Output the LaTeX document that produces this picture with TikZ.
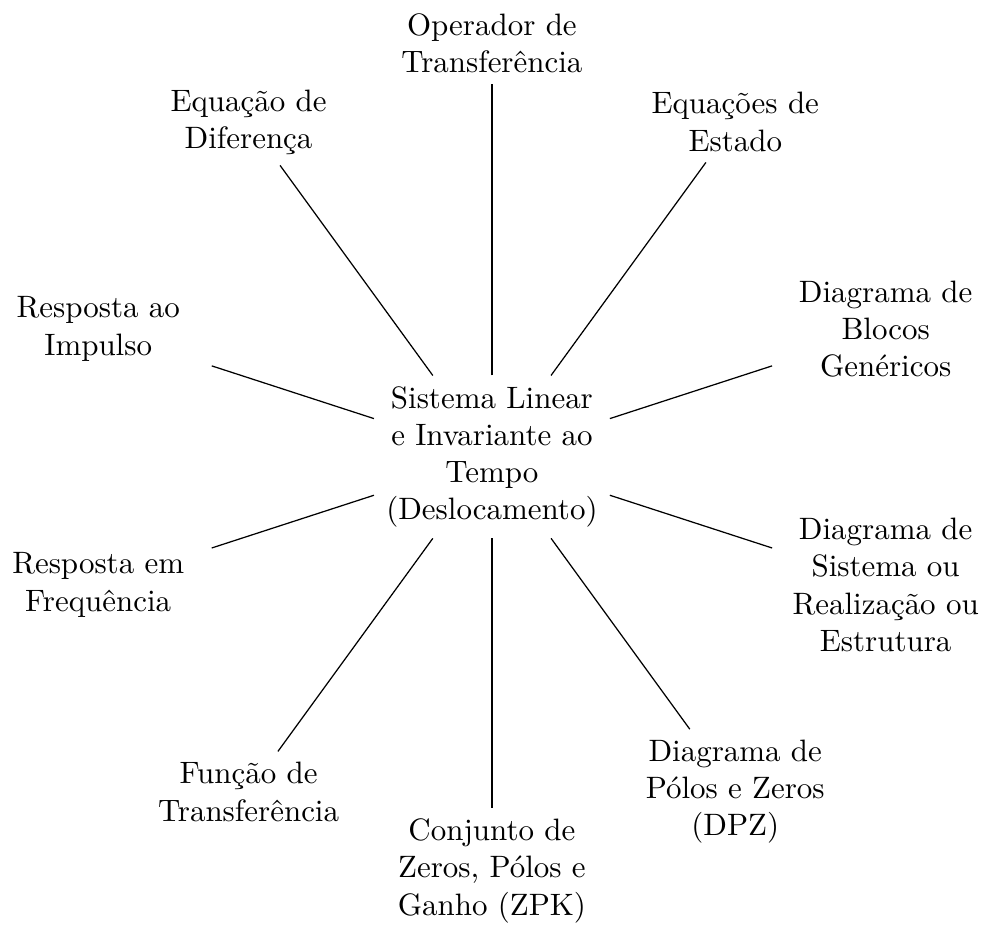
\documentclass[tikz,border=0pt]{standalone}
\begin{document}
\begin{tikzpicture}[
  concept/.style={text width=2.33cm, align=center},
  core/.style={text width=2.43cm, align=center},
  link/.style={draw=black, line width=0.4pt}
]
\useasboundingbox (-158.9pt,-151.5pt) rectangle (159.6pt,147.6pt);
\node[core] (c) at (0,0) {Sistema Linear\\ e Invariante ao\\ Tempo\\ (Deslocamento)};
\node[concept] (n1) at (90:4.7cm) {Operador de\\ Transferência};
\node[concept] (n2) at (54:4.7cm) {Equações de\\ Estado};
\node[concept] (n3) at (18:4.7cm) {Diagrama de\\ Blocos\\ Genéricos};
\node[concept] (n4) at (-18:4.7cm) {Diagrama de\\ Sistema ou\\ Realização ou\\ Estrutura};
\node[concept] (n5) at (-54:4.7cm) {Diagrama de\\ Pólos e Zeros\\ (DPZ)};
\node[concept] (n6) at (-90:4.7cm) {Conjunto de\\ Zeros, Pólos e\\ Ganho (ZPK)};
\node[concept] (n7) at (-126:4.7cm) {Função de\\ Transferência};
\node[concept] (n8) at (-162:4.7cm) {Resposta em\\ Frequência};
\node[concept] (n9) at (162:4.7cm) {Resposta ao\\ Impulso};
\node[concept] (n10) at (126:4.7cm) {Equação de\\ Diferença};
\foreach \i in {1,...,10} {
  \draw[link] (c) -- (n\i);
}
\end{tikzpicture}
\end{document}
